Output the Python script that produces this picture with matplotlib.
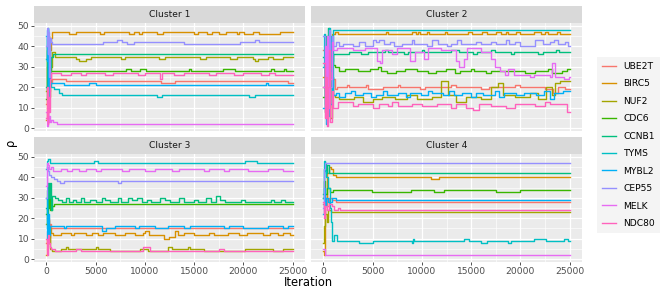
import matplotlib
matplotlib.use("Agg")
import matplotlib.pyplot as plt

genes = ["UBE2T", "BIRC5", "NUF2", "CDC6", "CCNB1",
         "TYMS", "MYBL2", "CEP55", "MELK", "NDC80"]
colours = ["#F8766D", "#D89000", "#A3A500", "#39B600", "#00BF7D",
           "#00BFC4", "#00B0F6", "#9590FF", "#E76BF3", "#FF62BC"]
n_iter = 25000

# (iteration, value) change points for each trace
cluster1 = {
    "UBE2T": [(0, 12), (60, 30), (130, 8), (200, 35), (280, 18), (360, 30), (450, 22),
              (550, 24), (2000, 23), (11600, 22), (13100, 23), (24500, 22)],
    "BIRC5": [(0, 4), (70, 14), (140, 30), (210, 45), (290, 20), (370, 38), (450, 44),
              (540, 47), (2300, 46), (3000, 47), (5400, 46), (5900, 47), (8400, 46),
              (8900, 47), (9400, 46), (9700, 47), (11200, 46), (11800, 47), (15000, 46),
              (15400, 47), (16300, 46), (16800, 47), (17500, 46), (18200, 47), (19300, 46),
              (19600, 47), (20100, 46), (21000, 47), (21600, 46), (23700, 47)],
    "NUF2": [(0, 18), (60, 40), (130, 25), (200, 45), (280, 15), (360, 33), (450, 30),
             (540, 37), (900, 35), (3000, 34), (3300, 33), (4000, 34), (4500, 35),
             (7600, 34), (8000, 35), (11400, 34), (12000, 35), (15600, 34), (16200, 35),
             (18600, 34), (19400, 35), (21000, 34), (21200, 33), (21500, 34), (22500, 35),
             (23000, 34), (24000, 35)],
    "CDC6": [(0, 14), (70, 38), (140, 46), (210, 20), (290, 35), (370, 30), (460, 28),
             (8100, 29), (8600, 28), (9500, 29), (10100, 28), (14500, 29), (14700, 28),
             (17900, 29), (19100, 28), (22800, 29), (23100, 28), (24100, 29), (24300, 28)],
    "CCNB1": [(0, 20), (60, 44), (130, 28), (200, 12), (280, 40), (360, 30), (450, 35),
              (650, 36)],
    "TYMS": [(0, 34), (60, 48), (130, 40), (200, 10), (280, 30), (360, 22), (450, 20),
             (800, 19), (1300, 17), (1600, 16), (11200, 15), (11700, 16), (20600, 15),
             (21200, 16)],
    "MYBL2": [(0, 45), (60, 33), (130, 49), (200, 18), (280, 30), (360, 22), (1800, 21),
              (4300, 22), (5000, 21), (22300, 22), (22500, 21)],
    "CEP55": [(0, 40), (60, 49), (130, 36), (200, 47), (280, 25), (360, 44), (450, 42),
              (550, 41), (5800, 42), (7200, 43), (7700, 42), (8200, 41), (8900, 42),
              (14000, 41), (19700, 42), (21200, 43), (21600, 42)],
    "MELK": [(0, 8), (60, 1), (130, 12), (200, 3), (280, 6), (360, 3), (500, 4), (700, 3),
             (1100, 2)],
    "NDC80": [(0, 5), (60, 20), (130, 2), (200, 15), (280, 8), (360, 24), (450, 27),
              (1500, 26), (2500, 27), (3500, 26), (4000, 27), (6000, 26), (6800, 27),
              (9300, 26), (10000, 27), (11500, 24), (11700, 27), (13000, 26), (14000, 27),
              (16500, 26), (17200, 27), (19000, 26), (20000, 27), (21800, 26), (22600, 27),
              (23200, 26)],
}

cluster2 = {
    "UBE2T": [(0, 38), (120, 18), (240, 42), (360, 22), (480, 35), (600, 10), (720, 30),
              (850, 15), (1000, 24), (1200, 19), (1400, 20), (2400, 21), (2600, 20),
              (4300, 21), (4500, 19), (6100, 20), (7600, 21), (7800, 20), (9800, 19),
              (10300, 20), (13000, 21), (13500, 20), (16000, 19), (16800, 20), (19500, 21),
              (20000, 20), (22500, 19), (23300, 17), (23800, 20), (24500, 19)],
    "BIRC5": [(0, 25), (130, 44), (260, 10), (390, 35), (520, 20), (650, 40), (780, 30),
              (900, 46), (1200, 47), (1500, 46), (6400, 47), (6600, 46), (9000, 47),
              (9400, 46), (9600, 47), (9800, 46), (10500, 47), (10700, 46), (12300, 47),
              (12500, 46), (14700, 47), (15100, 46), (16100, 47), (16600, 46), (17500, 47),
              (18000, 46), (18500, 47), (18700, 46), (19600, 47), (20000, 46), (21400, 47),
              (22100, 46), (22500, 47), (22800, 46), (23700, 47), (24000, 46)],
    "NUF2": [(0, 20), (120, 8), (240, 30), (360, 12), (480, 40), (600, 22), (720, 5),
             (850, 25), (1000, 16), (1200, 15), (1600, 14), (3100, 15), (4000, 13),
             (5000, 14), (6000, 15), (7300, 14), (8500, 16), (9500, 14), (11000, 15),
             (11900, 23), (12700, 16), (13500, 13), (14500, 15), (16000, 14), (17000, 20),
             (17700, 22), (18200, 16), (19500, 15), (21000, 17), (21800, 14), (22600, 20),
             (23200, 16), (23500, 22), (24000, 23)],
    "CDC6": [(0, 15), (120, 35), (240, 5), (360, 30), (480, 12), (600, 44), (720, 20),
             (850, 36), (1000, 31), (1200, 30), (1600, 28), (2200, 29), (3500, 28),
             (4700, 29), (5500, 30), (5900, 28), (6500, 27), (7400, 28), (8300, 29),
             (9500, 28), (10600, 27), (11400, 28), (12400, 29), (13400, 27), (13900, 28),
             (15000, 29), (15300, 28), (16500, 27), (17000, 28), (20500, 27), (21500, 28),
             (22800, 29), (23200, 27), (24200, 28), (24700, 29)],
    "CCNB1": [(0, 35), (120, 20), (240, 45), (360, 15), (480, 49), (600, 28), (720, 42),
              (850, 33), (1000, 36), (2600, 37), (3800, 36), (4500, 37), (6300, 38),
              (6600, 37), (8200, 36), (8600, 37), (10000, 38), (10200, 37), (13000, 38),
              (13800, 37), (15200, 36), (15600, 37), (17000, 38), (17400, 37), (19000, 36),
              (19400, 37), (21800, 36), (22300, 37), (23600, 38), (23900, 37)],
    "TYMS": [(0, 30), (110, 46), (220, 12), (330, 40), (440, 6), (550, 49), (660, 28),
             (770, 45), (880, 20), (1000, 48)],
    "MYBL2": [(0, 10), (120, 40), (240, 2), (360, 30), (480, 8), (600, 45), (720, 12),
              (850, 25), (1000, 16), (1300, 17), (1600, 15), (2200, 17), (2800, 18),
              (3200, 16), (4000, 17), (4800, 15), (5300, 16), (6100, 18), (6500, 16),
              (7600, 17), (8400, 15), (8800, 17), (9900, 16), (10600, 18), (11000, 17),
              (12100, 16), (12800, 18), (13300, 16), (14100, 17), (15000, 15), (15500, 17),
              (16200, 16), (17400, 18), (17800, 15), (18300, 17), (19600, 16), (20400, 17),
              (21600, 16), (22400, 18), (23000, 14), (23400, 17), (24300, 18)],
    "CEP55": [(0, 45), (120, 8), (240, 38), (360, 3), (480, 30), (600, 48), (720, 20),
              (850, 45), (1000, 40), (1300, 42), (1600, 40), (2000, 41), (3000, 40),
              (3600, 42), (4200, 40), (5000, 43), (5300, 42), (5700, 43), (6200, 41),
              (6800, 42), (7200, 40), (8000, 41), (9000, 43), (9200, 41), (10500, 40),
              (11000, 43), (11600, 41), (12500, 40), (13000, 41), (13600, 43), (14000, 41),
              (15500, 42), (16000, 41), (17000, 42), (17500, 41), (18500, 43), (18800, 41),
              (19500, 42), (20000, 40), (21500, 43), (22300, 41), (23000, 42), (23400, 43),
              (23800, 41), (24500, 42), (24800, 40)],
    "MELK": [(0, 20), (120, 40), (240, 15), (360, 45), (480, 10), (600, 35), (720, 24),
             (850, 42), (1000, 38), (1400, 39), (3000, 38), (4200, 39), (5400, 33),
             (5800, 32), (6000, 38), (7000, 36), (7500, 39), (8800, 33), (9300, 37),
             (10200, 34), (10600, 39), (11900, 38), (13500, 33), (13800, 30), (14300, 34),
             (14600, 39), (16000, 37), (17000, 34), (17400, 30), (17900, 28), (18400, 26),
             (18700, 29), (19300, 26), (21000, 25), (21400, 26), (23000, 25), (23200, 32),
             (23500, 25), (24400, 24), (24900, 25)],
    "NDC80": [(0, 32), (120, 5), (240, 25), (360, 1), (480, 20), (600, 38), (720, 3),
              (850, 18), (1000, 10), (1500, 13), (3000, 11), (3500, 12), (5000, 10),
              (5600, 12), (6600, 11), (7000, 13), (7600, 11), (9000, 12), (10000, 11),
              (11500, 12), (13000, 10), (13500, 12), (14500, 10), (15200, 9), (15800, 12),
              (17000, 11), (18500, 10), (19500, 12), (21500, 11), (22500, 13), (23000, 12),
              (24700, 8)],
}

cluster3 = {
    "UBE2T": [(0, 8), (80, 14), (170, 20), (260, 11), (350, 17), (450, 15)],
    "BIRC5": [(0, 2), (90, 10), (180, 19), (270, 8), (360, 15), (450, 13), (700, 12),
              (1500, 13), (2500, 12), (2800, 13), (4000, 12), (4600, 13), (5200, 12),
              (5800, 13), (7000, 12), (8000, 13), (9000, 12), (9800, 13), (10000, 14),
              (10400, 12), (11900, 10), (12400, 11), (13100, 14), (13400, 12), (14000, 13),
              (15000, 12), (16500, 13), (17000, 12), (18400, 13), (19600, 12), (20400, 13),
              (22000, 12), (22700, 13), (23500, 12), (24000, 13), (24700, 12)],
    "NUF2": [(0, 17), (80, 22), (170, 8), (260, 12), (350, 5), (600, 4), (1500, 5),
             (2000, 6), (2200, 5), (5000, 6), (5200, 5), (6500, 4), (9500, 5), (10300, 4),
             (12300, 6), (12800, 5), (14400, 6), (14600, 5), (16000, 4), (20200, 5),
             (23000, 4), (24000, 5)],
    "CDC6": [(0, 22), (90, 34), (180, 25), (270, 33), (360, 24), (550, 26), (800, 27)],
    "CCNB1": [(0, 25), (80, 15), (170, 37), (260, 30), (350, 37), (450, 24), (600, 31),
              (900, 30), (1200, 29), (1600, 28), (2000, 30), (2300, 28), (2700, 29),
              (3000, 28), (3500, 30), (3800, 28), (4400, 29), (5000, 28), (5700, 30),
              (6000, 29), (6500, 28), (7300, 30), (7600, 28), (8300, 30), (8700, 29),
              (9200, 30), (9700, 28), (10200, 29), (10600, 28), (11500, 30), (12000, 29),
              (12600, 28), (13500, 30), (14000, 28), (15000, 29), (15400, 28), (16200, 30),
              (16700, 28), (17200, 31), (17600, 29), (18100, 28), (19800, 29), (20200, 28),
              (22800, 29), (23100, 28), (23800, 29), (24200, 28)],
    "TYMS": [(0, 44), (80, 48), (170, 49), (350, 47), (4800, 48), (5200, 47), (20200, 48),
             (21400, 47)],
    "MYBL2": [(0, 30), (80, 10), (170, 22), (260, 12), (350, 16), (1800, 15), (2000, 16),
              (5600, 14), (6100, 15), (7000, 16), (9000, 15), (9400, 16), (11000, 15),
              (12300, 16), (14000, 15), (14600, 16), (18000, 15), (18500, 16), (20000, 15),
              (22500, 16), (24000, 15), (24500, 16)],
    "CEP55": [(0, 30), (80, 45), (170, 43), (300, 41), (500, 40), (800, 39), (1100, 38),
              (1400, 37), (1800, 38), (7300, 37), (7600, 38)],
    "MELK": [(0, 36), (80, 47), (170, 46), (300, 44), (500, 45), (700, 43), (1500, 44),
             (2100, 43), (2600, 44), (3300, 43), (4000, 44), (5000, 43), (5500, 44),
             (7700, 43), (8400, 44), (10000, 43), (11000, 44), (12800, 43), (13500, 44),
             (16000, 43), (16500, 44), (18000, 43), (18500, 44), (20500, 43), (22500, 44),
             (24000, 43)],
    "NDC80": [(0, 10), (70, 2), (150, 12), (240, 8), (330, 6), (500, 5), (900, 4),
              (3000, 5), (3500, 4), (9800, 6), (10500, 4), (17500, 5), (18000, 4)],
}

cluster4 = {
    "UBE2T": [(0, 27), (100, 22), (200, 32), (350, 26), (600, 30), (900, 29), (1300, 28)],
    "BIRC5": [(0, 4), (100, 2), (200, 30), (400, 42), (600, 45), (800, 44), (1000, 41),
              (1300, 40), (10900, 39), (11700, 40)],
    "NUF2": [(0, 8), (100, 16), (200, 22), (350, 18), (500, 24), (800, 23)],
    "CDC6": [(0, 30), (100, 38), (200, 32), (400, 35), (700, 33), (1000, 34), (4900, 33),
             (8900, 34), (11200, 33), (12200, 34), (17500, 33), (20000, 34)],
    "CCNB1": [(0, 32), (100, 44), (200, 47), (300, 42), (400, 46), (600, 42)],
    "TYMS": [(0, 30), (100, 48), (200, 43), (300, 40), (500, 35), (650, 25), (800, 18),
             (900, 9), (1100, 12), (1400, 9), (3600, 8), (5000, 9), (9000, 8), (9100, 10),
             (9200, 9), (14300, 10), (14800, 9), (16000, 8), (16600, 9), (18700, 8),
             (19000, 9), (21400, 10), (22600, 9), (24400, 10), (24800, 9)],
    "MYBL2": [(0, 22), (100, 35), (200, 26), (300, 30), (500, 28), (900, 30), (1300, 29)],
    "CEP55": [(0, 25), (100, 44), (200, 47)],
    "MELK": [(0, 5), (150, 2)],
    "NDC80": [(0, 28), (100, 20), (200, 26), (400, 24), (600, 27), (900, 26), (1100, 24),
              (1500, 25), (1700, 24)],
}

clusters = [("Cluster 1", cluster1), ("Cluster 2", cluster2),
            ("Cluster 3", cluster3), ("Cluster 4", cluster4)]

W, H = 664, 295
fig = plt.figure(figsize=(W / 100, H / 100), dpi=100)


def px_rect(x0, y0, x1, y1):
    return [x0 / W, 1 - y1 / H, (x1 - x0) / W, (y1 - y0) / H]


# panel boxes in pixels
cols = [(34, 305), (311, 582)]
rows = [(23, 131), (154, 262)]
strip_h = 17.5

lines = []
for k, (title, data) in enumerate(clusters):
    r, c = divmod(k, 2)
    x0, x1 = cols[c]
    y0, y1 = rows[r]
    ax = fig.add_axes(px_rect(x0, y0, x1, y1))
    ax.set_facecolor("#EBEBEB")
    for s in ax.spines.values():
        s.set_visible(False)
    ax.set_xlim(-1250, 26250)
    ax.set_ylim(-1.4, 51.4)
    ax.set_xticks(range(0, 25001, 5000))
    ax.set_xticks(range(2500, 25000, 5000), minor=True)
    ax.set_yticks(range(0, 51, 10))
    ax.set_yticks(range(5, 50, 10), minor=True)
    ax.grid(which="major", color="white", lw=0.9)
    ax.grid(which="minor", color="white", lw=0.45)
    ax.set_axisbelow(True)
    ax.tick_params(which="major", length=2, width=0.6, color="#333333",
                   labelsize=6.6, labelcolor="#4D4D4D", pad=1.5)
    ax.tick_params(which="minor", length=0)
    if r == 0:
        ax.tick_params(bottom=False, labelbottom=False)
    if c == 1:
        ax.tick_params(left=False, labelleft=False)

    for gene, col in zip(genes, colours):
        its = [p[0] for p in data[gene]] + [n_iter]
        vals = [p[1] for p in data[gene]]
        vals = vals + [vals[-1]]
        ln, = ax.step(its, vals, where="post", color=col, lw=1.0)
        if k == 0:
            lines.append(ln)

    sx = fig.add_axes(px_rect(x0, y0 - strip_h, x1, y0))
    sx.set_facecolor("#D9D9D9")
    sx.set_xticks([])
    sx.set_yticks([])
    for s in sx.spines.values():
        s.set_visible(False)
    sx.text(0.5, 0.5, title, ha="center", va="center", fontsize=6.6,
            color="#1A1A1A", transform=sx.transAxes)

fig.text(10 / W, 1 - 142.5 / H, "ρ", rotation=90, ha="center", va="center",
         fontsize=8.3, color="black")
fig.text(308 / W, 1 - 282 / H, "Iteration", ha="center", va="center",
         fontsize=8.3, color="black")

leg = fig.legend(lines, genes, loc="center left",
                 bbox_to_anchor=(597 / W, 1 - 145 / H), frameon=True,
                 facecolor="#F2F2F2", edgecolor="none", fancybox=False,
                 fontsize=6.6, handlelength=1.6, handletextpad=0.8,
                 labelspacing=0.92, borderpad=0.5, borderaxespad=0)

fig.savefig("out.png", dpi=100)
